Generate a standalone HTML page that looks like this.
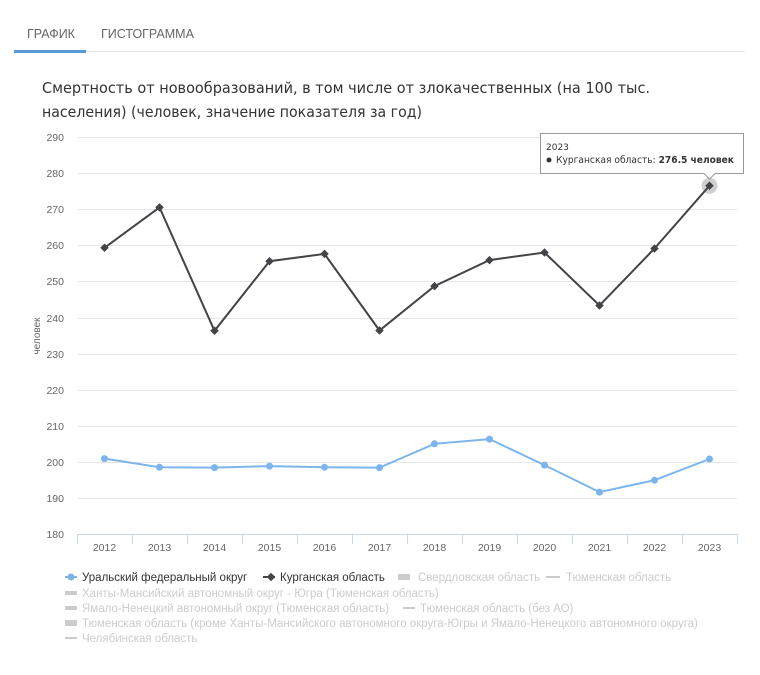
<!DOCTYPE html>
<html><head><meta charset="utf-8"><style>
body{margin:0;background:#fff;width:760px;height:670px;overflow:hidden;font-family:"Liberation Sans",sans-serif}
.t{font-family:"DejaVu Sans","Liberation Sans",sans-serif}
</style></head><body>
<svg width="760" height="670" xmlns="http://www.w3.org/2000/svg">
<text x="27" y="38" font-size="12.5" fill="#666">ГРАФИК</text>
<text x="101" y="38" font-size="12.5" fill="#666">ГИСТОГРАММА</text>
<line x1="14" y1="51.5" x2="745" y2="51.5" stroke="#e3e3e3"/>
<rect x="14" y="50" width="72" height="3" fill="#5b9bd5"/>
<text class="t" x="42" y="93" font-size="15" fill="#333" textLength="608" lengthAdjust="spacingAndGlyphs">Смертность от новообразований, в том числе от злокачественных (на 100 тыс.</text>
<text class="t" x="42" y="117" font-size="15" fill="#333" textLength="380" lengthAdjust="spacingAndGlyphs">населения) (человек, значение показателя за год)</text>
<g stroke="#e6e6e6" stroke-width="1">
<line x1="78" x2="737" y1="137.5" y2="137.5"/><line x1="78" x2="737" y1="173.5" y2="173.5"/>
<line x1="78" x2="737" y1="209.5" y2="209.5"/><line x1="78" x2="737" y1="245.5" y2="245.5"/>
<line x1="78" x2="737" y1="281.5" y2="281.5"/><line x1="78" x2="737" y1="318.5" y2="318.5"/>
<line x1="78" x2="737" y1="354.5" y2="354.5"/><line x1="78" x2="737" y1="390.5" y2="390.5"/>
<line x1="78" x2="737" y1="426.5" y2="426.5"/><line x1="78" x2="737" y1="462.5" y2="462.5"/>
<line x1="78" x2="737" y1="498.5" y2="498.5"/>
</g>
<line x1="77" x2="737" y1="534.5" y2="534.5" stroke="#ccd6eb"/>
<g stroke="#ccd6eb">
<line x1="77.5" x2="77.5" y1="534" y2="544"/><line x1="132.5" x2="132.5" y1="534" y2="544"/><line x1="187.5" x2="187.5" y1="534" y2="544"/><line x1="242.5" x2="242.5" y1="534" y2="544"/><line x1="297.5" x2="297.5" y1="534" y2="544"/><line x1="352.5" x2="352.5" y1="534" y2="544"/><line x1="407.5" x2="407.5" y1="534" y2="544"/><line x1="462.5" x2="462.5" y1="534" y2="544"/><line x1="517.5" x2="517.5" y1="534" y2="544"/><line x1="572.5" x2="572.5" y1="534" y2="544"/><line x1="627.5" x2="627.5" y1="534" y2="544"/><line x1="682.5" x2="682.5" y1="534" y2="544"/><line x1="737.5" x2="737.5" y1="534" y2="544"/>
</g>
<g font-size="10.5" fill="#666" text-anchor="end">
<text x="64" y="141">290</text><text x="64" y="177">280</text><text x="64" y="213">270</text><text x="64" y="249">260</text><text x="64" y="285">250</text><text x="64" y="322">240</text><text x="64" y="358">230</text><text x="64" y="394">220</text><text x="64" y="430">210</text><text x="64" y="466">200</text><text x="64" y="502">190</text><text x="64" y="538">180</text>
</g>
<text transform="translate(40,336) rotate(-90)" font-size="10" fill="#666" text-anchor="middle">человек</text>
<g font-size="10.5" fill="#666" text-anchor="middle">
<text x="104.5" y="551">2012</text><text x="159.5" y="551">2013</text><text x="214.5" y="551">2014</text><text x="269.5" y="551">2015</text><text x="324.5" y="551">2016</text><text x="379.5" y="551">2017</text><text x="434.5" y="551">2018</text><text x="489.5" y="551">2019</text><text x="544.5" y="551">2020</text><text x="599.5" y="551">2021</text><text x="654.5" y="551">2022</text><text x="709.5" y="551">2023</text>
</g>
<polyline fill="none" stroke="#7cb5ec" stroke-width="2" points="104.5,458.6 159.5,467.2 214.5,467.6 269.5,466.1 324.5,467.2 379.5,467.6 434.5,443.8 489.5,439.1 544.5,465.1 599.5,492.1 654.5,480.2 709.5,459"/>
<g fill="#7cb5ec">
<circle cx="104.5" cy="458.6" r="3.5"/><circle cx="159.5" cy="467.2" r="3.5"/><circle cx="214.5" cy="467.6" r="3.5"/><circle cx="269.5" cy="466.1" r="3.5"/><circle cx="324.5" cy="467.2" r="3.5"/><circle cx="379.5" cy="467.6" r="3.5"/><circle cx="434.5" cy="443.8" r="3.5"/><circle cx="489.5" cy="439.1" r="3.5"/><circle cx="544.5" cy="465.1" r="3.5"/><circle cx="599.5" cy="492.1" r="3.5"/><circle cx="654.5" cy="480.2" r="3.5"/><circle cx="709.5" cy="459" r="3.5"/>
</g>
<polyline fill="none" stroke="#434348" stroke-width="2" points="104.5,247.8 159.5,207.4 214.5,330.8 269.5,261.2 324.5,253.9 379.5,330.5 434.5,286.1 489.5,260.1 544.5,252.5 599.5,305.5 654.5,248.5 709.5,185.7"/>
<circle cx="709.5" cy="185.7" r="8" fill="#434348" fill-opacity="0.25"/>
<g fill="#434348">
<rect x="101.5" y="244.8" width="6" height="6" transform="rotate(45 104.5 247.8)"/>
<rect x="156.5" y="204.4" width="6" height="6" transform="rotate(45 159.5 207.4)"/>
<rect x="211.5" y="327.8" width="6" height="6" transform="rotate(45 214.5 330.8)"/>
<rect x="266.5" y="258.2" width="6" height="6" transform="rotate(45 269.5 261.2)"/>
<rect x="321.5" y="250.9" width="6" height="6" transform="rotate(45 324.5 253.9)"/>
<rect x="376.5" y="327.5" width="6" height="6" transform="rotate(45 379.5 330.5)"/>
<rect x="431.5" y="283.1" width="6" height="6" transform="rotate(45 434.5 286.1)"/>
<rect x="486.5" y="257.1" width="6" height="6" transform="rotate(45 489.5 260.1)"/>
<rect x="541.5" y="249.5" width="6" height="6" transform="rotate(45 544.5 252.5)"/>
<rect x="596.5" y="302.5" width="6" height="6" transform="rotate(45 599.5 305.5)"/>
<rect x="651.5" y="245.5" width="6" height="6" transform="rotate(45 654.5 248.5)"/>
<rect x="706.5" y="182.7" width="6" height="6" transform="rotate(45 709.5 185.7)"/>
</g>
<path d="M540.5,133.5 H743.5 V173.5 H715 L709.5,179 L704,173.5 H540.5 Z" fill="#fff" fill-opacity="0.95" stroke="#999"/>
<text class="t" x="546" y="150" font-size="9" fill="#333">2023</text>
<circle cx="549" cy="160" r="2.5" fill="#333"/>
<text class="t" x="556" y="163" font-size="10" fill="#333" textLength="178" lengthAdjust="spacingAndGlyphs">Курганская область: <tspan font-weight="bold">276.5 человек</tspan></text>
<g font-family="'Liberation Sans Narrow','Liberation Sans',sans-serif" font-size="11.5">
<line x1="65" x2="77" y1="577" y2="577" stroke="#7cb5ec" stroke-width="2"/><circle cx="71" cy="577" r="3.5" fill="#7cb5ec"/>
<text x="82" y="581" fill="#333">Уральский федеральный округ</text>
<line x1="263" x2="275" y1="577" y2="577" stroke="#434348" stroke-width="2"/><rect x="268" y="574" width="6" height="6" fill="#434348" transform="rotate(45 271 577)"/>
<text x="280" y="581" fill="#333">Курганская область</text>
<g fill="#ccc">
<rect x="398" y="574" width="12" height="6"/><text x="418" y="581">Свердловская область</text>
<rect x="546" y="576" width="14" height="2"/><text x="566" y="581">Тюменская область</text>
<rect x="65" y="591" width="12" height="4"/><text x="82" y="597">Ханты-Мансийский автономный округ - Югра (Тюменская область)</text>
<rect x="65" y="606" width="12" height="4"/><text x="82" y="612">Ямало-Ненецкий автономный округ (Тюменская область)</text>
<rect x="403" y="607" width="12" height="2"/><text x="420" y="612">Тюменская область (без АО)</text>
<rect x="65" y="620" width="12" height="6"/><text x="82" y="627">Тюменская область (кроме Ханты-Мансийского автономного округа-Югры и Ямало-Ненецкого автономного округа)</text>
<rect x="65" y="637" width="12" height="2"/><text x="82" y="642">Челябинская область</text>
</g>
</g>
</svg>
</body></html>
